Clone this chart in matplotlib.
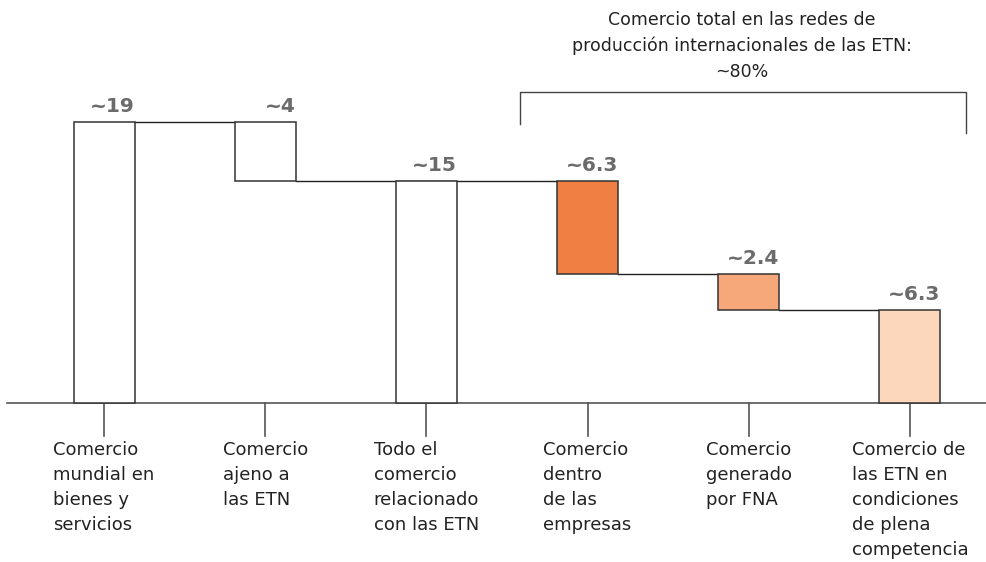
import matplotlib
matplotlib.use("Agg")
import matplotlib.pyplot as plt

categories = [
    "Comercio\nmundial en\nbienes y\nservicios",
    "Comercio\najeno a\nlas ETN",
    "Todo el\ncomercio\nrelacionado\ncon las ETN",
    "Comercio\ndentro\nde las\nempresas",
    "Comercio\ngenerado\npor FNA",
    "Comercio de\nlas ETN en\ncondiciones\nde plena\ncompetencia",
]
values = [19, 4, 15, 6.3, 2.4, 6.3]
value_labels = ["~19", "~4", "~15", "~6.3", "~2.4", "~6.3"]
# bar kind: "total" bars start at zero, "step" bars hang from the running level
kinds = ["total", "step", "total", "step", "step", "step"]
fills = ["white", "white", "white", "#F07F43", "#F6A87A", "#FDD7BB"]
bracket_text = "Comercio total en las redes de\nproducción internacionales de las ETN:\n~80%"

plt.rcParams["font.family"] = ["DejaVu Sans"]

W, H = 987, 562
fig = plt.figure(figsize=(W / 100, H / 100), dpi=100)
ax = fig.add_axes([0, 0, 1, 1])
ax.set_axis_off()

# pixel -> data helpers
x0_px, dx_px = 104, 161.2
y0_px, dy_px = 403, 281 / 19
ax.set_xlim(-x0_px / dx_px, (W - x0_px) / dx_px)
ax.set_ylim(-(H - y0_px) / dy_px, y0_px / dy_px)

def px_x(p):
    return (p - x0_px) / dx_px

def px_y(p):
    return (y0_px - p) / dy_px

width = 61 / dx_px
edge = "#333333"
text_grey = "#6b6b6b"

# bar bottoms: totals start at 0, steps hang down from the running level
bottoms = []
level = 0.0
for v, k in zip(values, kinds):
    if k == "total":
        bottoms.append(0.0)
        level = v
    else:
        bottoms.append(level - v)
        level = level - v

xs = list(range(len(values)))
ax.bar(xs, values, width=width, bottom=bottoms, color=fills,
       edgecolor=edge, linewidth=1.1, zorder=3)

# connector lines between consecutive bars
tops = [b + v for b, v in zip(bottoms, values)]
conn = [
    (0, 1, tops[0]),
    (1, 3, bottoms[1]),
    (3, 4, bottoms[3]),
    (4, 5, bottoms[4]),
]
for a, b, y in conn:
    ax.plot([a + width / 2, b - width / 2], [y, y], color="#222222",
            lw=1.0, zorder=2)

# value labels right-aligned with the bar edge
for x, t, lab in zip(xs, tops, value_labels):
    ax.text(x + width / 2, t + 10 / dy_px, lab, ha="right", va="baseline",
            fontsize=14.5, fontweight="bold", color=text_grey, zorder=4)

# baseline and ticks
ax.plot([px_x(7), px_x(W)], [0, 0], color="#555555", lw=1.2, zorder=1)
for x in xs:
    ax.plot([x, x], [0, px_y(436)], color="#555555", lw=1.2, zorder=1)

for x, lab in zip(xs, categories):
    ax.text(x, px_y(441), lab, ha="center", va="top", multialignment="left",
            fontsize=13, color="#222222", linespacing=1.5)

# bracket over the network trade bars
bl, br = px_x(520), px_x(966)
ax.plot([bl, bl, br, br], [px_y(124), px_y(92), px_y(92), px_y(133)],
        color="#444444", lw=1.0)
ax.text(px_x(742), px_y(11), bracket_text, ha="center", va="top",
        fontsize=12.5, color="#222222", linespacing=1.55)

fig.savefig("out.png", dpi=100)
